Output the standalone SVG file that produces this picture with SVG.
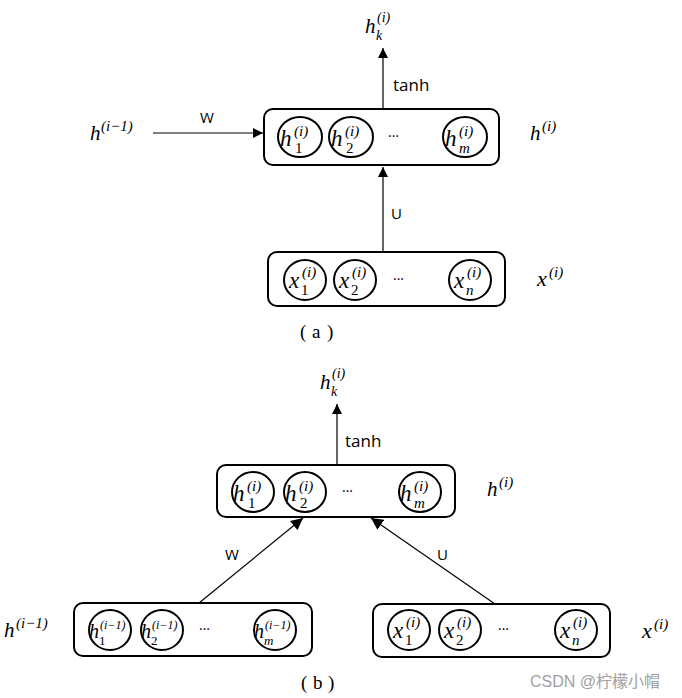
<svg xmlns="http://www.w3.org/2000/svg" width="682" height="698" viewBox="0 0 682 698">
<defs>
<marker id="arr" viewBox="0 0 10 10" refX="10" refY="5" markerWidth="10" markerHeight="10" markerUnits="userSpaceOnUse" orient="auto">
<path d="M0,0 L10,5 L0,10 z" fill="#000"/>
</marker>
<marker id="arrb" viewBox="0 0 10 10" refX="10" refY="5" markerWidth="12" markerHeight="12" markerUnits="userSpaceOnUse" orient="auto">
<path d="M0,0 L10,5 L0,10 z" fill="#000"/>
</marker>
</defs>
<style>
.box{fill:#fff;stroke:#000;stroke-width:2}
.cir{fill:#fff;stroke:#000;stroke-width:2}
.m{font-family:"Liberation Serif",serif;font-style:italic;fill:#000}
.d{font-family:"Liberation Serif",serif;font-style:normal;fill:#000}
.s{font-family:"Open Sans","Liberation Sans",sans-serif;fill:#000}
.ln{stroke:#000;stroke-width:1.2;fill:none}
.cap{font-family:"Liberation Serif",serif;font-size:19px;fill:#000}
.ch{font-size:23px}
.cs{font-size:15px}
</style>

<g id="connectors">
<line class="ln" x1="383" y1="109" x2="383" y2="48" marker-end="url(#arr)"/>
<line class="ln" x1="153" y1="133" x2="263" y2="133" marker-end="url(#arr)"/>
<line class="ln" x1="383" y1="252" x2="383" y2="167" marker-end="url(#arr)"/>
<line class="ln" x1="337" y1="465" x2="337" y2="404" marker-end="url(#arr)"/>
<line class="ln" x1="199" y1="603" x2="303" y2="518" marker-end="url(#arrb)"/>
<line class="ln" x1="495" y1="604" x2="371" y2="518" marker-end="url(#arrb)"/>
<text class="s" x="393" y="91" font-size="17">tanh</text>
<text class="s" x="200" y="123" font-size="15">W</text>
<text class="s" x="391" y="219" font-size="15">U</text>
<text class="s" x="345" y="447" font-size="17">tanh</text>
<text class="s" x="225" y="560" font-size="15">W</text>
<text class="s" x="437" y="560" font-size="15">U</text>
</g>

<!-- (a) -->
<g id="a_hk">
<text class="m" x="365" y="33" font-size="21">h</text>
<text class="m" x="377" y="22" font-size="14">(i)</text>
<text class="m" x="376" y="40" font-size="14">k</text>
</g>
<g id="a_hprev">
<text class="m" x="90" y="140" font-size="21">h</text>
<text class="m" x="101" y="131" font-size="15">(i−1)</text>
</g>
<g id="a_hbox">
<rect class="box" x="264" y="109" width="235" height="56" rx="9"/>
<ellipse class="cir" cx="300" cy="137" rx="22" ry="20"/>
<text class="m ch" x="280" y="146">h</text>
<text class="m cs" x="294" y="136">(i)</text>
<text class="d cs" x="295" y="153">1</text>
<ellipse class="cir" cx="351" cy="137" rx="22" ry="20"/>
<text class="m ch" x="331" y="146">h</text>
<text class="m cs" x="345" y="136">(i)</text>
<text class="d cs" x="346" y="153">2</text>
<text class="s" x="388" y="141" font-size="14">···</text>
<ellipse class="cir" cx="465" cy="137" rx="22" ry="20"/>
<text class="m ch" x="445" y="146">h</text>
<text class="m cs" x="459" y="136">(i)</text>
<text class="m cs" x="459" y="153">m</text>
</g>
<g id="a_hlabel">
<text class="m" x="530" y="140" font-size="21">h</text>
<text class="m" x="542" y="131" font-size="15">(i)</text>
</g>
<g id="a_xbox">
<rect class="box" x="268" y="252" width="237" height="54" rx="9"/>
<ellipse class="cir" cx="305" cy="280" rx="21" ry="20"/>
<text class="m ch" x="289" y="288">x</text>
<text class="m cs" x="302" y="277">(i)</text>
<text class="d cs" x="301" y="295">1</text>
<ellipse class="cir" cx="355" cy="280" rx="21" ry="20"/>
<text class="m ch" x="339" y="288">x</text>
<text class="m cs" x="352" y="277">(i)</text>
<text class="d cs" x="351" y="295">2</text>
<text class="s" x="393" y="284" font-size="14">···</text>
<ellipse class="cir" cx="470" cy="280" rx="21" ry="20"/>
<text class="m ch" x="454" y="288">x</text>
<text class="m cs" x="467" y="277">(i)</text>
<text class="m cs" x="466" y="295">n</text>
</g>
<g id="a_xlabel">
<text class="m" x="537" y="286" font-size="22">x</text>
<text class="m" x="549" y="277" font-size="15">(i)</text>
</g>
<g id="cap_a">
<text class="cap" x="300" y="338">(</text>
<text class="cap" x="312" y="338">a</text>
<text class="cap" x="327" y="338">)</text>
</g>

<!-- (b) -->
<g id="b_hk">
<text class="m" x="320" y="389" font-size="21">h</text>
<text class="m" x="332" y="378" font-size="14">(i)</text>
<text class="m" x="331" y="396" font-size="14">k</text>
</g>
<g id="b_hbox">
<rect class="box" x="217" y="465" width="238" height="52" rx="9"/>
<ellipse class="cir" cx="253" cy="492" rx="21" ry="20"/>
<text class="m ch" x="233" y="501">h</text>
<text class="m cs" x="247" y="491">(i)</text>
<text class="d cs" x="248" y="508">1</text>
<ellipse class="cir" cx="305" cy="492" rx="21" ry="20"/>
<text class="m ch" x="285" y="501">h</text>
<text class="m cs" x="299" y="491">(i)</text>
<text class="d cs" x="300" y="508">2</text>
<text class="s" x="342" y="496" font-size="14">···</text>
<ellipse class="cir" cx="420" cy="492" rx="21" ry="20"/>
<text class="m ch" x="400" y="501">h</text>
<text class="m cs" x="414" y="491">(i)</text>
<text class="m cs" x="414" y="508">m</text>
</g>
<g id="b_hlabel">
<text class="m" x="487" y="496" font-size="21">h</text>
<text class="m" x="499" y="487" font-size="15">(i)</text>
</g>
<g id="b_hprev_label">
<text class="m" x="4" y="637" font-size="21">h</text>
<text class="m" x="16" y="628" font-size="15">(i−1)</text>
</g>
<g id="b_hprev_box">
<rect class="box" x="74" y="603" width="238" height="53" rx="9"/>
<ellipse class="cir" cx="110" cy="630" rx="21" ry="20"/>
<text class="m" x="89" y="638" font-size="20">h</text>
<text class="m" x="100" y="629" font-size="12">(i−1)</text>
<text class="d" x="99" y="645" font-size="13">1</text>
<ellipse class="cir" cx="162" cy="630" rx="21" ry="20"/>
<text class="m" x="141" y="638" font-size="20">h</text>
<text class="m" x="152" y="629" font-size="12">(i−1)</text>
<text class="d" x="151" y="645" font-size="13">2</text>
<text class="s" x="199" y="634" font-size="14">···</text>
<ellipse class="cir" cx="275" cy="630" rx="21" ry="20"/>
<text class="m" x="254" y="638" font-size="20">h</text>
<text class="m" x="265" y="629" font-size="12">(i−1)</text>
<text class="m" x="264" y="645" font-size="13">m</text>
</g>
<g id="b_xbox">
<rect class="box" x="373" y="604" width="237" height="53" rx="9"/>
<ellipse class="cir" cx="409" cy="630" rx="21" ry="20"/>
<text class="m ch" x="393" y="638">x</text>
<text class="m cs" x="406" y="627">(i)</text>
<text class="d cs" x="405" y="645">1</text>
<ellipse class="cir" cx="460" cy="630" rx="21" ry="20"/>
<text class="m ch" x="444" y="638">x</text>
<text class="m cs" x="457" y="627">(i)</text>
<text class="d cs" x="456" y="645">2</text>
<text class="s" x="498" y="634" font-size="14">···</text>
<ellipse class="cir" cx="576" cy="630" rx="21" ry="20"/>
<text class="m ch" x="560" y="638">x</text>
<text class="m cs" x="573" y="627">(i)</text>
<text class="m cs" x="572" y="645">n</text>
</g>
<g id="b_xlabel">
<text class="m" x="642" y="638" font-size="22">x</text>
<text class="m" x="654" y="629" font-size="15">(i)</text>
</g>
<g id="cap_b">
<text class="cap" x="301" y="689">(</text>
<text class="cap" x="313" y="689">b</text>
<text class="cap" x="328" y="689">)</text>
</g>
<text x="530" y="687" font-family="'Liberation Sans','Noto Sans CJK SC',sans-serif" font-size="16" fill="#a0a0a0">CSDN @柠檬小帽</text>
</svg>
